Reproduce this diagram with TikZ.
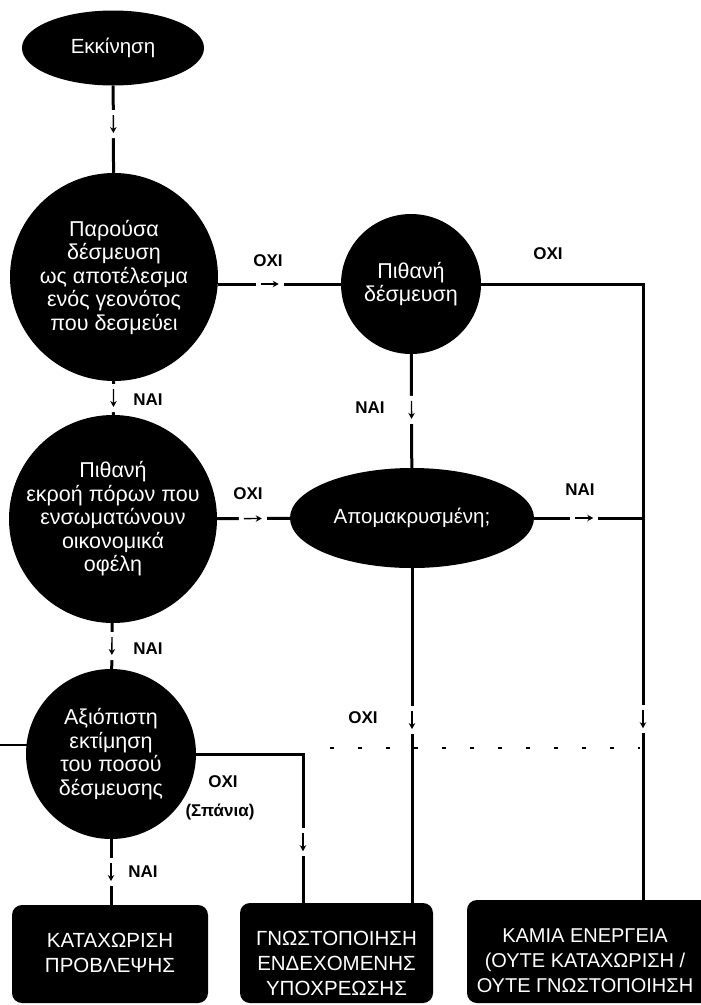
\documentclass[tikz,border=0pt]{standalone}
\usepackage{fontspec}
\setmainfont{Liberation Sans}
\usetikzlibrary{shapes.geometric, decorations.markings, arrows.meta}

\begin{document}
\begin{tikzpicture}[x=1pt, y=-1pt,
  dec/.style={circle, fill=black, inner sep=-40pt, text=white, align=center,
    font=\fontsize{21.5}{23.5}\selectfont},
  term/.style={ellipse, fill=black, inner sep=0pt, text=white,
    font=\fontsize{20.5}{23}\selectfont},
  outcome/.style={rectangle, rounded corners=10pt, fill=black},
  outtext/.style={text=white, align=center, inner sep=0pt,
    font=\fontsize{20.5}{25}\selectfont},
  lbl/.style={font=\bfseries\fontsize{17}{20}\selectfont, inner sep=0pt},
  flow/.style={line width=3pt},
  % a gap in the line with a small arrow inside it
  gaparrow/.style={postaction={decorate}, decoration={markings,
    mark=at position #1 with {
      \fill[white] (-14pt,-4pt) rectangle (14pt,4pt);
      \draw[line width=1.4pt, -{Stealth[length=6pt,width=6.5pt]}] (-9pt,0pt) -- (9pt,0pt);}}}
]
\fill[white] (0,0) rectangle (701,1005);
\useasboundingbox (0,0) rectangle (701,1005);

% start and decisions
\node (start) [term, minimum width=182pt, minimum height=75pt] at (113,48) {Εκκίνηση};
\node (c1) [dec, minimum size=208pt] at (114,277)
  {Παρούσα\\δέσμευση\\ως αποτέλεσμα\\ενός γεονότος\\που δεσμεύει};
\node (c2) [dec, minimum size=140pt] at (411,284) {Πιθανή\\δέσμευση};
\node (c3) [dec, minimum size=208pt] at (113,519)
  {Πιθανή\\εκροή πόρων που\\ενσωματώνουν\\οικονομικά\\οφέλη};
\node (ap) [term, minimum width=244pt, minimum height=100pt] at (412,518) {Απομακρυσμένη;};
\node (c4) [dec, minimum size=170pt] at (111,754)
  {Αξιόπιστη\\εκτίμηση\\του ποσού\\δέσμευσης};

% outcomes
\node (b1) [outcome, minimum width=196pt, minimum height=98pt] at (110,954) {};
\node (b1t) [outtext] at (110,953) {ΚΑΤΑΧΩΡΙΣΗ\\ΠΡΟΒΛΕΨΗΣ};
\node (b2) [outcome, minimum width=193pt, minimum height=100pt] at (336.5,953) {};
\node (b2t) [outtext] at (336.5,963) {ΓΝΩΣΤΟΠΟΙΗΣΗ\\ΕΝΔΕΧΟΜΕΝΗΣ\\ΥΠΟΧΡΕΩΣΗΣ};
\node (b3) [outcome, minimum width=245pt, minimum height=103pt] at (589.5,951.5) {};
\node (b3t) [outtext, font=\fontsize{20}{25}\selectfont] at (585,961)
  {ΚΑΜΙΑ ΕΝΕΡΓΕΙΑ\\(ΟΥΤΕ ΚΑΤΑΧΩΡΙΣΗ /\\ΟΥΤΕ ΓΝΩΣΤΟΠΟΙΗΣΗ};

% branch labels
\node (n1) [lbl] at (268,261) {ΟΧΙ};
\node (n2) [lbl] at (548,254) {ΟΧΙ};
\node (n3) [lbl] at (148,400) {ΝΑΙ};
\node (n4) [lbl] at (370,408) {ΝΑΙ};
\node (n5) [lbl] at (248,494) {ΟΧΙ};
\node (n6) [lbl] at (580,490) {ΝΑΙ};
\node (n7) [lbl] at (148,649) {ΝΑΙ};
\node (n8) [lbl] at (363,718) {ΟΧΙ};
\node (n9) [lbl] at (223,782) {ΟΧΙ};
\node (n10) [lbl] at (220,812) {(Σπάνια)};
\node (n11) [lbl] at (143,872) {ΝΑΙ};

% connectors
\coordinate (rx) at (643,284);
\coordinate (ox) at (303,754);
\draw[flow, gaparrow=0.44] (start) -- (c1);
\draw[flow, gaparrow=0.42] (c2.west -| c1.east) -- (c2.west);
\draw[flow, gaparrow=0.5] (c1) -- (c3);
\draw[flow, gaparrow=597pt] (c2.east) -- (rx) -- (rx |- b3.north);
\draw[flow, gaparrow=0.49] (c2) -- (ap);
\draw[flow, gaparrow=0.49] (c3) -- (ap);
\draw[flow, gaparrow=0.46] (ap.east) -- (ap.east -| rx);
\draw[flow, gaparrow=0.454] (ap.south) -- (ap.south |- b2.north);
\draw[flow, gaparrow=0.5] (c3) -- (c4);
\draw[flow, gaparrow=195pt] (c4.east) -- (ox) -- (ox |- b2.north);
\draw[flow, gaparrow=0.5] (c4.south) -- (c4.south |- b1.north);

% stray marks across the lower part
\draw[line width=2pt] (0,745) -- (30,745);
\draw[line width=1.2pt, dash pattern=on 4pt off 24pt] (330,748) -- (640,748);
\end{tikzpicture}
\end{document}
